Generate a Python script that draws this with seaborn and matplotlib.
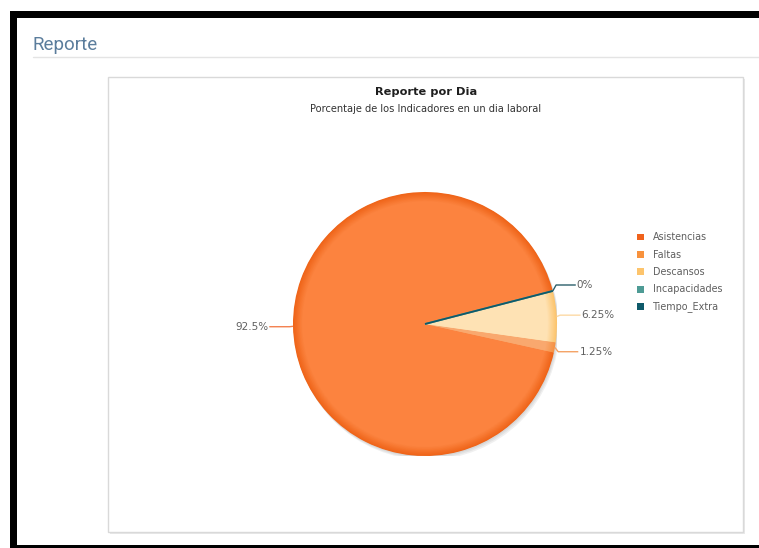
import numpy as np
import matplotlib
matplotlib.use("Agg")
import matplotlib.pyplot as plt
from matplotlib.patches import Rectangle, Circle
from matplotlib.colors import to_rgb
import seaborn as sns

# ---- data -------------------------------------------------------------
categories = ["Asistencias", "Faltas", "Descansos", "Incapacidades", "Tiempo_Extra"]
percentages = [92.5, 1.25, 6.25, 0.0, 0.0]

page_heading = "Reporte"
title = "Reporte por Dia"
subtitle = "Porcentaje de los Indicadores en un dia laboral"

# ---- styling ----------------------------------------------------------
legend_colors = ["#F0621C", "#F8923D", "#FDC46C", "#4E9B95", "#0F5A6A"]
fill_colors = ["#FC833F", "#F9A86E", "#FEE2B4", "#4E9B95", "#0F5A6A"]
rim_colors = ["#EF6418", "#F59244", "#FCC46C", "#4E9B95", "#0F5A6A"]
connector_colors = ["#F3814F", "#F4A265", "#FDD9A5", "#4E9B95", "#2B5F6B"]

W, H = 759, 548
sns.set_theme(style="white")
plt.rcParams["font.family"] = ["DejaVu Sans"]

fig = plt.figure(figsize=(W / 100, H / 100), dpi=100, facecolor="white")

# page layer in pixel coordinates (y grows downward)
page = fig.add_axes([0, 0, 1, 1])
page.set_xlim(0, W)
page.set_ylim(H, 0)
page.axis("off")

# dark window frame
for x, y, w, h in [(10, 10.7, W, 7.3), (10, 10.7, 7, H), (10, 545.3, W, 5)]:
    page.add_patch(Rectangle((x, y), w, h, fc="black", ec="none", zorder=1))

# page heading and rule
page.text(33, 49.5, page_heading, fontsize=13.5, family=["Roboto", "DejaVu Sans"],
          color="#5B7D9C", va="baseline", ha="left")
page.plot([33, W], [57, 57], color="#e4e4e4", lw=1)

# chart panel with soft shadow
page.add_patch(Rectangle((109.5, 78.5), 635, 455, fc="#e9e9e9", ec="none", zorder=1))
page.add_patch(Rectangle((108, 77), 635, 455, fc="white", ec="#d9d9d9", lw=1, zorder=2))

page.text(426, 95.3, title, fontsize=8.2, fontweight="bold", color="#1e1e1e",
          ha="center", va="baseline", zorder=3)
page.text(426, 112.2, subtitle, fontsize=7.1, color="#333333",
          ha="center", va="baseline", zorder=3)

# legend
for i, (name, col) in enumerate(zip(categories, legend_colors)):
    yc = 237 + i * 17.4
    page.add_patch(Rectangle((637.3, yc - 3.4), 6.8, 6.8, fc=col, ec="none", zorder=3))
    page.text(652.7, yc + 0.3, name, fontsize=6.9, color="#5e5e5e",
              ha="left", va="center", zorder=3)

# ---- pie --------------------------------------------------------------
cx, cy, R = 425, 324, 132
ax = fig.add_axes([(cx - R) / W, 1 - (cy + R) / H, 2 * R / W, 2 * R / H])
ax.set_zorder(5)

start = 14.5

# soft drop shadow
for k, a in enumerate([0.05, 0.05, 0.06]):
    ax.add_patch(Circle((0.006 * (k + 1), -0.01 * (k + 1)), 1.0, fc="black",
                        alpha=a, ec="none", zorder=0))


def blend(c1, c2, t):
    a, b = np.array(to_rgb(c1)), np.array(to_rgb(c2))
    return tuple(a + (b - a) * t)


# radial shading: darker rim fading into the fill colour
n_layers = 16
for k in range(n_layers):
    t = k / (n_layers - 1)
    r = 1.0 - 0.07 * t
    cols = [blend(rc, fc, t) for rc, fc in zip(rim_colors, fill_colors)]
    ax.pie(percentages, radius=r, colors=cols, startangle=start, counterclock=True,
           wedgeprops=dict(linewidth=0), normalize=True)

# outline pass: only the empty slices show up as a line
wedges, _ = ax.pie(percentages, radius=1.0, colors=legend_colors, startangle=start,
                   counterclock=True, normalize=True)
for w, v, col in zip(wedges, percentages, legend_colors):
    w.set_facecolor("none")
    if v == 0:
        w.set_edgecolor(col)
        w.set_linewidth(1.3)
    else:
        w.set_edgecolor("none")
        w.set_linewidth(0)

# data labels with elbow connectors
label_r = 1.18
placed = set()
for w, v, ccol in reversed(list(zip(wedges, percentages, connector_colors))):
    mid = np.deg2rad((w.theta1 + w.theta2) / 2)
    key = round(float(mid), 3)
    if key in placed:
        continue
    placed.add(key)
    ex, ey = np.cos(mid), np.sin(mid)
    ly = label_r * np.sin(mid)
    lx = label_r * np.cos(mid)
    side = 1 if lx >= 0 else -1
    ax.plot([ex, ex + side * 0.025, lx], [ey, ly, ly], color=ccol, lw=1,
            solid_capstyle="butt", clip_on=False, zorder=4)
    ax.text(lx + side * 0.008, ly, f"{v:g}%", fontsize=7.5, color="#606060",
            ha="left" if side > 0 else "right", va="center", clip_on=False)

# pie() resets the limits, so fix the unit circle to the axes box afterwards
ax.set_xlim(-1, 1)
ax.set_ylim(-1, 1)
ax.set_aspect("auto")
ax.axis("off")

fig.savefig("out.png", dpi=100, facecolor="white")
